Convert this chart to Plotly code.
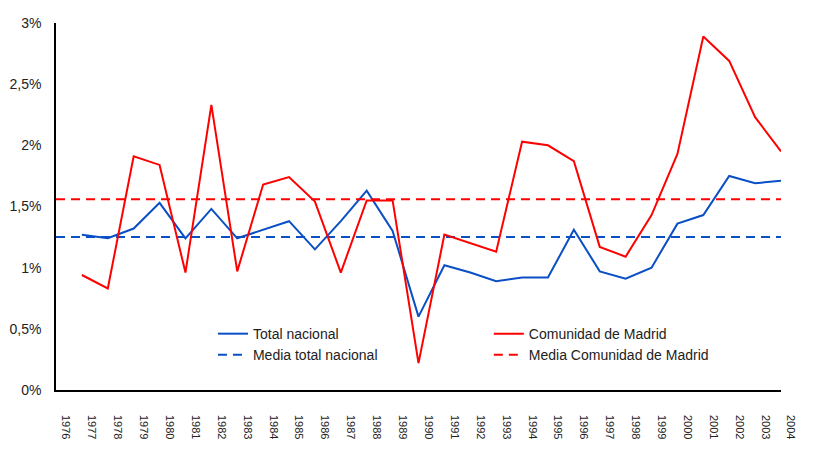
import plotly.graph_objects as go

axis_years = list(range(1976, 2005))
years = list(range(1977, 2005))

total_nacional = [1.27, 1.24, 1.32, 1.53, 1.24, 1.48, 1.24, 1.31, 1.38, 1.15, 1.38, 1.63,
                  1.30, 0.60, 1.02, 0.96, 0.89, 0.92, 0.92, 1.31, 0.97, 0.91, 1.00, 1.36,
                  1.43, 1.75, 1.69, 1.71]
comunidad_madrid = [0.94, 0.83, 1.91, 1.84, 0.96, 2.33, 0.97, 1.68, 1.74, 1.54, 0.96, 1.55,
                    1.55, 0.22, 1.27, 1.20, 1.13, 2.03, 2.00, 1.87, 1.17, 1.09, 1.43, 1.93,
                    2.89, 2.69, 2.23, 1.95]
media_total_nacional = 1.25
media_madrid = 1.56

y_ticks = [0, 0.5, 1, 1.5, 2, 2.5, 3]
y_tick_labels = ["0%", "0,5%", "1%", "1,5%", "2%", "2,5%", "3%"]

BLUE = "#0a4fc4"
RED = "#ff0000"

fig = go.Figure()
fig.add_trace(go.Scatter(x=years, y=total_nacional, mode="lines", name="Total nacional",
                         line=dict(color=BLUE, width=2), legend="legend"))
fig.add_trace(go.Scatter(x=[axis_years[0], axis_years[-1]], y=[media_total_nacional] * 2,
                         mode="lines", name="Media total nacional",
                         line=dict(color=BLUE, width=2, dash="9px,6px"), legend="legend"))
fig.add_trace(go.Scatter(x=years, y=comunidad_madrid, mode="lines", name="Comunidad de Madrid",
                         line=dict(color=RED, width=2), legend="legend2"))
fig.add_trace(go.Scatter(x=[axis_years[0], axis_years[-1]], y=[media_madrid] * 2,
                         mode="lines", name="Media Comunidad de Madrid",
                         line=dict(color=RED, width=2, dash="9px,6px"), legend="legend2"))

legend_font = dict(family="Liberation Sans, Arial, sans-serif", size=14, color="#222222")

# page body has an 8px margin, so the figure is 8px smaller and shifted
fig.update_layout(
    width=806, height=444,
    margin=dict(l=48, r=33, t=15, b=62),
    paper_bgcolor="white", plot_bgcolor="white",
    font=dict(family="Liberation Sans, Arial, sans-serif", color="#222222"),
    showlegend=True,
    legend=dict(x=0.2165, y=0.196, xanchor="left", yanchor="top",
                font=legend_font, bgcolor="rgba(0,0,0,0)", tracegroupgap=0),
    legend2=dict(x=0.597, y=0.196, xanchor="left", yanchor="top",
                 font=legend_font, bgcolor="rgba(0,0,0,0)", tracegroupgap=0),
    xaxis=dict(range=[axis_years[0], axis_years[-1]],
               tickvals=axis_years, ticktext=[str(y) for y in axis_years],
               tickangle=90, tickfont=dict(size=11, color="#222222"),
               ticklabelshift=10, ticklabelstandoff=21,
               showgrid=False, zeroline=False, showline=True, linecolor="black", linewidth=1.5,
               ticks="", automargin=False),
    yaxis=dict(range=[0, 3], tickvals=y_ticks, ticktext=y_tick_labels,
               tickfont=dict(size=14, color="#222222"),
               showgrid=False, zeroline=False, showline=True, linecolor="black", linewidth=1.5,
               ticks="", ticklabelstandoff=10, automargin=False),
)

fig.write_html("out.html")
